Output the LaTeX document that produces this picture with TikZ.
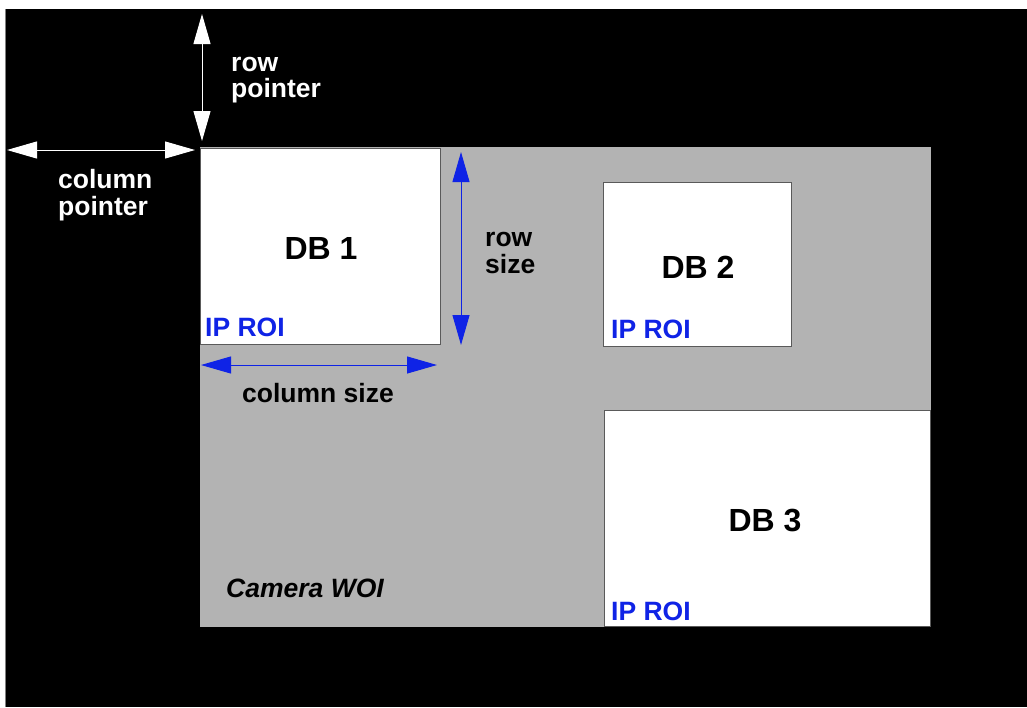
\documentclass[tikz,border=0pt]{standalone}
\usepackage{fontspec}
\setmainfont{Liberation Sans}
\usetikzlibrary{arrows.meta,positioning,calc}
\definecolor{woigray}{RGB}{179,179,179}
\definecolor{roiblue}{RGB}{15,35,230}
\definecolor{edgegray}{RGB}{90,90,90}

\tikzset{
  dbbox/.style={draw=edgegray, fill=white, line width=1pt, anchor=north west, inner sep=0pt},
  dblabel/.style={font=\fontsize{32}{38}\selectfont\bfseries},
  roilabel/.style={font=\fontsize{26.5}{30}\selectfont\bfseries, text=roiblue, anchor=base west, inner sep=0pt},
  txtlabel/.style={font=\fontsize{26.5}{26.5}\selectfont\bfseries, align=left, inner sep=0pt},
  dimarrow/.style={{Triangle[length=30pt,width=17pt]}-{Triangle[length=30pt,width=17pt]}, line width=1pt},
}

\begin{document}
\begin{tikzpicture}[x=1pt,y=-1pt]
    \useasboundingbox (0,0) rectangle (1027,707);
    % Sensor background
    \fill[black] (6,9) rectangle (1027,707);
    \draw[gray] (5.5,9) -- (5.5,707);

    % Camera window of interest
    \node[fill=woigray, minimum width=731pt, minimum height=480pt, anchor=north west, inner sep=0pt] (woi) at (200,147) {};
    \node[font=\fontsize{26.5}{30}\selectfont\bfseries\itshape] (woitext) at (305,588) {Camera WOI};

    % Data blocks
    \node[dbbox, minimum width=240pt, minimum height=196pt] (db1) at (200,148) {};
    \node[dbbox, minimum width=188pt, minimum height=164pt] (db2) at (603,182) {};
    \node[dbbox, minimum width=326pt, minimum height=216pt] (db3) at (604,410) {};

    \node[dblabel] (db1text) at (321,248) {DB 1};
    \node[dblabel] (db2text) at (698,267) {DB 2};
    \node[dblabel] (db3text) at (765,520) {DB 3};

    \node[roilabel] (roi1) at (205,336) {IP ROI};
    \node[roilabel] (roi2) at (611,338) {IP ROI};
    \node[roilabel] (roi3) at (611,620) {IP ROI};

    % Pointers (white)
    \coordinate (rowtop) at (202,14);
    \coordinate (rowbot) at (202,141);
    \coordinate (colleft) at (7,150);
    \coordinate (colright) at (195,150);
    \draw[dimarrow, white] (rowtop) -- (rowbot);
    \draw[dimarrow, white] (colleft) -- (colright);
    \node[txtlabel, text=white, anchor=west] (rowptr) at (231,80) {row\\pointer};
    \node[txtlabel, text=white, anchor=west] (colptr) at (58,195) {column\\pointer};

    % Sizes (blue)
    \coordinate (sizetop) at (461,152);
    \coordinate (sizebot) at (461,345);
    \coordinate (sizeleft) at (201,365);
    \coordinate (sizeright) at (437,365);
    \draw[dimarrow, roiblue] (sizetop) -- (sizebot);
    \draw[dimarrow, roiblue] (sizeleft) -- (sizeright);
    \node[txtlabel, anchor=west] (rowsize) at (485,253) {row\\size};
    \node[txtlabel] (colsize) at (318,393) {column size};
\end{tikzpicture}
\end{document}
